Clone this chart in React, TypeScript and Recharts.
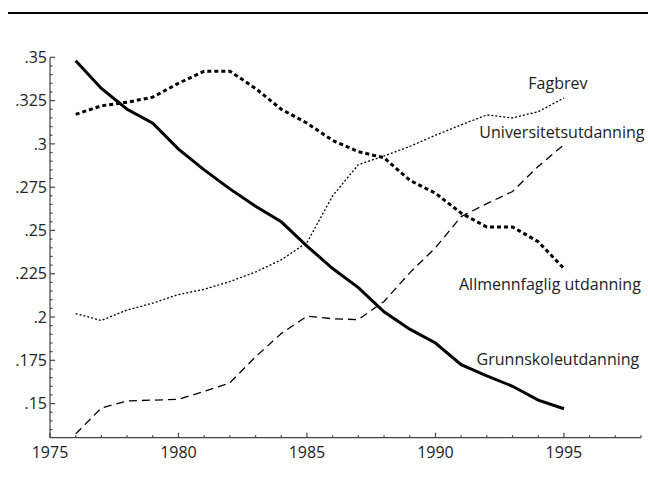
import React from "react";
import { LineChart, Line, XAxis, YAxis, LabelList } from "recharts";

document.body.style.margin = "0";
document.body.style.overflow = "hidden";

// andel per utdanningsnivå, 1976-1995
const years = [
  1976, 1977, 1978, 1979, 1980, 1981, 1982, 1983, 1984, 1985,
  1986, 1987, 1988, 1989, 1990, 1991, 1992, 1993, 1994, 1995,
];
const grunnskole = [
  0.348, 0.332, 0.32, 0.312, 0.297, 0.285, 0.274, 0.264, 0.255, 0.241,
  0.228, 0.217, 0.203, 0.193, 0.185, 0.1725, 0.166, 0.16, 0.152, 0.147,
];
const allmennfaglig = [
  0.317, 0.322, 0.324, 0.327, 0.335, 0.342, 0.342, 0.332, 0.32, 0.312,
  0.302, 0.2955, 0.292, 0.279, 0.2715, 0.26, 0.252, 0.252, 0.2435, 0.228,
];
const fagbrev = [
  0.202, 0.198, 0.204, 0.208, 0.213, 0.216, 0.2205, 0.226, 0.233, 0.243,
  0.27, 0.288, 0.293, 0.2985, 0.305, 0.311, 0.3167, 0.315, 0.3186, 0.3265,
];
const universitet = [
  0.1325, 0.1475, 0.1515, 0.152, 0.1525, 0.157, 0.162, 0.177, 0.1905, 0.2005,
  0.199, 0.1985, 0.209, 0.2255, 0.24, 0.258, 0.2655, 0.2725, 0.287, 0.2995,
];

const xMajor = [1975, 1980, 1985, 1990, 1995];
const yMajor = [0.15, 0.175, 0.2, 0.225, 0.25, 0.275, 0.3, 0.325, 0.35];

const xTicks: number[] = [];
for (let y = 1975; y <= 1998; y++) xTicks.push(y);
const yTicks: number[] = [];
for (let i = 135; i <= 350; i += 5) yTicks.push(i / 1000);

const data = years.map((year, i) => ({
  year,
  grunnskole: grunnskole[i],
  allmennfaglig: allmennfaglig[i],
  fagbrev: fagbrev[i],
  universitet: universitet[i],
}));

const FONT = "'Open Sans', sans-serif";
const AXIS = "#444";
const TEXT = "#222";

function XTick({ x, y, payload }: any) {
  const major = xMajor.includes(payload.value);
  return (
    <g>
      <line x1={x} x2={x} y1={y} y2={y - (major ? 5 : 2.5)} stroke={AXIS} strokeWidth={1.2} />
      {major && (
        <text x={x} y={y + 20.5} textAnchor="middle" fontSize={16} fontFamily={FONT} fill={TEXT}>
          {payload.value}
        </text>
      )}
    </g>
  );
}

function YTick({ x, y, payload }: any) {
  const major = yMajor.some((m) => Math.abs(m - payload.value) < 1e-6);
  return (
    <g>
      <line x1={x} x2={x + (major ? 5 : 2.5)} y1={y} y2={y} stroke={AXIS} strokeWidth={1.2} />
      {major && (
        <text x={x - 3} y={y + 5.7} textAnchor="end" fontSize={16} fontFamily={FONT} fill={TEXT}>
          {String(payload.value).replace(/^0/, "")}
        </text>
      )}
    </g>
  );
}

function endLabel(text: string, dx: number, dy: number) {
  return (p: any) => {
    if (p.index !== years.length - 1) return null;
    const x = p.x ?? p.viewBox?.x;
    const y = p.y ?? p.viewBox?.y;
    return (
      <text x={x + dx} y={y + dy} textAnchor="middle" fontSize={16} fontFamily={FONT} fill={TEXT}>
        {text}
      </text>
    );
  };
}

export default function App() {
  return (
    <div style={{ position: "relative", width: 648, height: 486, background: "#fff" }}>
      <div style={{ position: "absolute", left: 8, top: 12, width: 640, height: 2.4, background: "#000" }} />
      <LineChart
        width={648}
        height={486}
        data={data}
        margin={{ top: 57.3, right: 7, left: 0, bottom: 18.3 }}
      >
        <XAxis
          dataKey="year"
          type="number"
          domain={[1975, 1998]}
          ticks={xTicks}
          interval={0}
          tickSize={0}
          tickMargin={0}
          height={30}
          stroke={AXIS}
          strokeWidth={1.2}
          tick={<XTick />}
        />
        <YAxis
          type="number"
          domain={[0.1303, 0.35]}
          allowDataOverflow
          ticks={yTicks}
          interval={0}
          tickSize={0}
          tickMargin={0}
          width={50}
          stroke={AXIS}
          strokeWidth={1.2}
          tick={<YTick />}
        />
        <Line
          dataKey="grunnskole"
          stroke="#000"
          strokeWidth={3}
          dot={false}
          isAnimationActive={false}
        >
          <LabelList content={endLabel("Grunnskoleutdanning", -6, -44)} />
        </Line>
        <Line
          dataKey="allmennfaglig"
          stroke="#000"
          strokeWidth={3}
          strokeDasharray="4 3"
          dot={false}
          isAnimationActive={false}
        >
          <LabelList content={endLabel("Allmennfaglig utdanning", -14, 21)} />
        </Line>
        <Line
          dataKey="fagbrev"
          stroke="#000"
          strokeWidth={1.3}
          strokeDasharray="2 2"
          dot={false}
          isAnimationActive={false}
        >
          <LabelList content={endLabel("Fagbrev", -6, -9)} />
        </Line>
        <Line
          dataKey="universitet"
          stroke="#000"
          strokeWidth={1.3}
          strokeDasharray="8 5"
          dot={false}
          isAnimationActive={false}
        >
          <LabelList content={endLabel("Universitetsutdanning", -2, -7)} />
        </Line>
      </LineChart>
    </div>
  );
}
